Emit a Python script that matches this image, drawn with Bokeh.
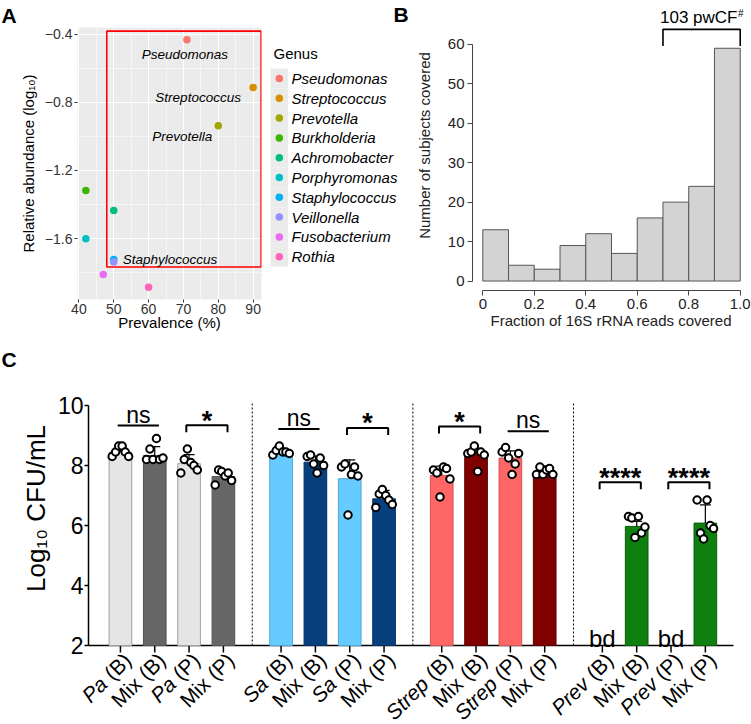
import math
from bokeh.plotting import figure
from bokeh.layouts import column, row
from bokeh.models import Range1d, FixedTicker
from bokeh.embed import file_html
from bokeh.resources import INLINE
from bokeh.core.properties import value

FONT = "Liberation Sans"

# ---------------- Panel A data ----------------
genus = ["Pseudomonas", "Streptococcus", "Prevotella", "Burkholderia", "Achromobacter",
         "Porphyromonas", "Staphylococcus", "Veillonella", "Fusobacterium", "Rothia"]
prevalence = [71, 90, 80, 42, 50, 42, 50, 50, 47, 60]
rel_abundance = [-0.434, -0.713, -0.938, -1.317, -1.434, -1.600, -1.722, -1.736, -1.810, -1.884]
genus_colors = ["#F8766D", "#D89000", "#A3A500", "#39B600", "#00BF7D",
                "#00BFC4", "#00B0F6", "#9590FF", "#E76BF3", "#FF62BC"]
labelled_genus = ["Pseudomonas", "Streptococcus", "Prevotella", "Staphylococcus"]
box_prevalence = [48.0, 92.3]
box_abundance = [-1.766, -0.383]
a_xticks = [40, 50, 60, 70, 80, 90]
a_yticks = [-1.6, -1.2, -0.8, -0.4]

# ---------------- Panel B data ----------------
bin_edges = [0.0, 0.1, 0.2, 0.3, 0.4, 0.5, 0.6, 0.7, 0.8, 0.9, 1.0]
subject_counts = [13, 4, 3, 9, 12, 7, 16, 20, 24, 59]
b_xticks = [0.0, 0.2, 0.4, 0.6, 0.8, 1.0]
b_xtick_labels = ["0", "0.2", "0.4", "0.6", "0.8", "1.0"]
b_yticks = [0, 10, 20, 30, 40, 50, 60]

# ---------------- Panel C data ----------------
cond_prefix = ["Pa", "Mix", "Pa", "Mix", "Sa", "Mix", "Sa", "Mix",
               "Strep", "Mix", "Strep", "Mix", "Prev", "Mix", "Prev", "Mix"]
cond_suffix = ["\u00a0(B)", "\u00a0(B)", "\u00a0(P)", "\u00a0(P)"] * 4
log_cfu_mean = [8.45, 8.33, 8.06, 7.63, 8.45, 8.11, 7.56, 6.89,
                7.67, 8.39, 8.25, 7.78, None, 5.97, None, 6.08]
log_cfu_sd = [0.12, 0.30, 0.30, 0.13, 0.12, 0.20, 0.63, 0.28,
              0.31, 0.18, 0.24, 0.20, None, 0.17, None, 0.61]
log_cfu_points = [
    [8.30, 8.45, 8.65, 8.65, 8.45, 8.30],
    [8.20, 8.55, 8.20, 8.90, 8.20, 8.25],
    [7.75, 8.20, 8.55, 8.10, 8.00, 7.85],
    [7.35, 7.85, 7.80, 7.65, 7.75, 7.50],
    [8.35, 8.50, 8.65, 8.45, 8.45, 8.40],
    [8.30, 8.35, 8.05, 7.75, 8.25, 8.00],
    [7.95, 8.05, 6.35, 7.70, 7.95, 7.65],
    [6.60, 7.05, 7.20, 7.00, 6.85, 6.70],
    [7.85, 7.75, 6.95, 7.95, 7.90, 7.55],
    [8.40, 8.45, 8.65, 7.80, 8.45, 8.35],
    [8.45, 8.60, 8.25, 7.70, 8.05, 8.40],
    [7.70, 7.95, 7.70, 7.85, 7.90, 7.70],
    [],
    [6.30, 6.25, 5.60, 6.30, 5.75, 5.95],
    [],
    [6.85, 5.75, 5.55, 6.85, 6.00, 5.90],
]
bar_fill = ["#E5E5E5", "#666666", "#E5E5E5", "#666666",
            "#66CCFF", "#08407F", "#66CCFF", "#08407F",
            "#FF6666", "#800000", "#FF6666", "#800000",
            "#FFFFFF", "#0F7F0F", "#FFFFFF", "#0F7F0F"]
bar_line = ["#A0A0A0", "#555555", "#A0A0A0", "#555555",
            "#4DA6D9", "#06305F", "#4DA6D9", "#06305F",
            "#D05555", "#5A0000", "#D05555", "#5A0000",
            "#FFFFFF", "#0A5C0A", "#FFFFFF", "#0A5C0A"]
comparisons = [  # (bar i, bar j, label, y level, style)
    (0, 1, "ns", 9.33, "line"),
    (2, 3, "*", 9.34, "bracket"),
    (4, 5, "ns", 9.22, "line"),
    (6, 7, "*", 9.25, "bracket"),
    (8, 9, "*", 9.30, "bracket"),
    (10, 11, "ns", 9.14, "line"),
    (12, 13, "****", 7.44, "bracket"),
    (14, 15, "****", 7.44, "bracket"),
]
c_yticks = [2, 4, 6, 8, 10]
c_ylabel = "Log\u2081\u2080 CFU/mL"

# ---------------- layout constants ----------------
GROUP_STEP = 4.68
JITTER = [-0.24, -0.14, -0.05, 0.05, 0.14, 0.24]
xpos = [(i // 4) * GROUP_STEP + (i % 4) for i in range(16)]


def no_align(f):
    try:
        f.frame_align = False
    except Exception:
        pass
    return f


def blank(width, height):
    f = figure(width=width, height=height, x_range=Range1d(0, width), y_range=Range1d(height, 0),
               output_backend="svg", toolbar_location=None,
               min_border_left=0, min_border_right=0, min_border_top=0, min_border_bottom=0)
    f.axis.visible = False
    f.grid.visible = False
    f.outline_line_color = None
    return no_align(f)


def letter(f, x, y, t):
    f.text(x=[x], y=[y], text=[t], text_align="left", text_baseline="top", text_font=value(FONT),
           text_font_size="21px", text_font_style="bold", text_color="black")


# =============== Figure A ===============
strip_a = blank(265, 27)
letter(strip_a, 1, 3, "A")

pa = figure(width=265, height=316, x_range=Range1d(39.6, 92.4), y_range=Range1d(-1.9565, -0.3615),
            output_backend="svg", toolbar_location=None,
            min_border_left=77, min_border_right=4, min_border_top=0, min_border_bottom=44)
no_align(pa)
pa.background_fill_color = "#EBEBEB"
pa.outline_line_color = None
pa.xaxis.ticker = FixedTicker(ticks=a_xticks, minor_ticks=[t + 5 for t in a_xticks[:-1]])
pa.yaxis.ticker = FixedTicker(ticks=a_yticks, minor_ticks=[t - 0.2 for t in a_yticks])
for g in (pa.xgrid, pa.ygrid):
    g.grid_line_color = "white"
    g.grid_line_width = 1.1
    g.minor_grid_line_color = "white"
    g.minor_grid_line_width = 0.5
for ax in (pa.xaxis, pa.yaxis):
    ax.axis_line_color = None
    ax.major_tick_in = 0
    ax.major_tick_out = 3
    ax.minor_tick_in = 0
    ax.minor_tick_out = 0
    ax.major_tick_line_color = "#333333"
    ax.major_label_text_font = FONT
    ax.major_label_text_font_size = "14px"
    ax.major_label_text_color = "#333333"
    ax.axis_label_text_font = FONT
    ax.axis_label_text_font_size = "15px"
    ax.axis_label_text_font_style = "normal"
    ax.axis_label_text_color = "black"
pa.xaxis.major_label_standoff = 1
pa.xaxis.axis_label_standoff = -3
pa.yaxis.major_label_standoff = 2
pa.yaxis.axis_label_standoff = 5
pa.xaxis.axis_label = "Prevalence (%)"
pa.yaxis.axis_label = "Relative abundance (log\u2081\u2080)"

pa.quad(left=box_prevalence[0], right=box_prevalence[1], bottom=box_abundance[0], top=box_abundance[1],
        fill_color=None, line_color="#FF0000", line_width=1.6)
pa.scatter(x=prevalence, y=rel_abundance, marker="circle", size=7.5,
           fill_color=genus_colors, line_color=None)

label_offsets = {"Pseudomonas": (-2, 15, "center"), "Streptococcus": (-55, 10, "center"),
                 "Prevotella": (-36, 11, "center"), "Staphylococcus": (9, 0, "left")}
for gname in labelled_genus:
    k = genus.index(gname)
    dx, dy, al = label_offsets[gname]
    pa.text(x=[prevalence[k]], y=[rel_abundance[k]], text=[gname], x_offset=dx, y_offset=dy,
            text_align=al, text_baseline="middle", text_font=value(FONT),
            text_font_size="13.5px", text_font_style="italic", text_color="black")

col_a = column(strip_a, pa)

# =============== Legend figure ===============
pl = blank(147, 343)
KEY_TOP, KEY_STEP = 68.1, 19.8
pl.quad(left=5, right=22.6, top=[KEY_TOP + KEY_STEP * i for i in range(len(genus))],
        bottom=[KEY_TOP + KEY_STEP * (i + 1) for i in range(len(genus))],
        fill_color="#EBEBEB", line_color=None)
key_y = [KEY_TOP + KEY_STEP * (i + 0.5) for i in range(len(genus))]
pl.scatter(x=[13.8] * len(genus), y=key_y, marker="circle", size=7.5,
           fill_color=genus_colors, line_color=None)
pl.text(x=[26] * len(genus), y=key_y, text=genus,
        text_align="left", text_baseline="middle", text_font=value(FONT),
        text_font_size="15px", text_font_style="italic", text_color="black")
pl.text(x=[8], y=[53], text=["Genus"], text_align="left", text_baseline="middle",
        text_font=value(FONT), text_font_size="15px", text_color="black")
letter(pl, 128, 2, "B")

# =============== Figure B ===============
pb = figure(width=339, height=343, x_range=Range1d(-0.04, 1.04), y_range=Range1d(-2.4, 71.11),
            output_backend="svg", toolbar_location=None,
            min_border_left=59, min_border_right=1, min_border_top=0, min_border_bottom=53)
no_align(pb)
pb.grid.visible = False
pb.outline_line_color = None
pb.xaxis.ticker = FixedTicker(ticks=b_xticks)
pb.xaxis.major_label_overrides = dict(zip(b_xticks, b_xtick_labels))
pb.yaxis.ticker = FixedTicker(ticks=b_yticks)
pb.xaxis.bounds = (0, 1)
pb.yaxis.bounds = (0, 60)
for ax in (pb.xaxis, pb.yaxis):
    ax.axis_line_color = "#444444"
    ax.major_tick_line_color = "#444444"
    ax.major_tick_in = 0
    ax.major_tick_out = 5
    ax.minor_tick_in = 0
    ax.minor_tick_out = 0
    ax.major_label_text_font = FONT
    ax.major_label_text_font_size = "15px"
    ax.major_label_text_color = "#222222"
    ax.axis_label_text_font = FONT
    ax.axis_label_text_font_size = "15px"
    ax.axis_label_text_font_style = "normal"
    ax.axis_label_text_color = "#222222"
pb.xaxis.major_label_standoff = 3
pb.xaxis.axis_label_standoff = 0
pb.yaxis.major_label_standoff = 3
pb.yaxis.axis_label_standoff = 12
pb.xaxis.axis_label = "Fraction of 16S rRNA reads covered"
pb.yaxis.axis_label = "Number of subjects covered"
pb.quad(left=bin_edges[:-1], right=bin_edges[1:], bottom=0, top=subject_counts,
        fill_color="#D3D3D3", line_color="#555555", line_width=1)
br_left, br_right = bin_edges[7], bin_edges[10]
br_low, br_high = max(subject_counts) + 0.6, max(subject_counts) + 4.8
pb.line(x=[br_left, br_left, br_right, br_right], y=[br_low, br_high, br_high, br_low],
        line_color="black", line_width=1.6)
pwcf_n = sum(subject_counts[7:])
pb.text(x=[br_left], y=[br_high + 3.0], x_offset=-3, text=[f"{pwcf_n} pwCF"], text_align="left",
        text_baseline="middle", text_font=value(FONT), text_font_size="17px", text_color="black")
pb.text(x=[br_left], y=[br_high + 3.0], x_offset=75, y_offset=-4, text=["#"], text_align="left",
        text_baseline="middle", text_font=value(FONT), text_font_size="10px", text_color="black")

row1 = row(col_a, pl, pb)

# =============== Figure C ===============
strip_c = blank(751, 47)
letter(strip_c, 1, 4, "C")

Y_BASE = 2
C_LEFT, C_RIGHT = -0.93, 17.86      # extent of the x axis line
C_PX = 645 / (C_RIGHT - C_LEFT)     # pixels per bar unit
pc = figure(width=751, height=334,
            x_range=Range1d(C_LEFT - 88 / C_PX, C_LEFT - 88 / C_PX + 751 / C_PX),
            y_range=Range1d(-0.633, 10.5),
            output_backend="svg", toolbar_location=None,
            min_border_left=0, min_border_right=0, min_border_top=0, min_border_bottom=0)
no_align(pc)
pc.grid.visible = False
pc.outline_line_color = None
pc.axis.visible = False

# y axis (drawn at the left end of the x axis)
pc.segment(x0=[C_LEFT], y0=[c_yticks[0]], x1=[C_LEFT], y1=[c_yticks[-1]], line_color="black", line_width=1.5)
pc.segment(x0=C_LEFT, y0=c_yticks, x1=C_LEFT - 4 / C_PX, y1=c_yticks, line_color="black", line_width=1.5)
pc.text(x=[C_LEFT] * len(c_yticks), y=c_yticks, text=[str(t) for t in c_yticks], x_offset=-5,
        text_align="right", text_baseline="middle", text_font=value(FONT),
        text_font_size="23px", text_color="black")
pc.text(x=[C_LEFT], y=[6.57], x_offset=-53, text=[c_ylabel], angle=math.pi / 2,
        text_align="center", text_baseline="middle", text_font=value(FONT),
        text_font_size="26px", text_color="black")

# x axis line and ticks at the base value
pc.segment(x0=[C_LEFT], y0=[Y_BASE], x1=[C_RIGHT], y1=[Y_BASE], line_color="black", line_width=1.5)
pc.segment(x0=xpos, y0=Y_BASE, x1=xpos, y1=Y_BASE - 7 / 30, line_color="black", line_width=1.5)

# group separators
sep_x = [((g * GROUP_STEP + 3) + (g + 1) * GROUP_STEP) / 2 for g in range(3)]
pc.segment(x0=sep_x, y0=Y_BASE, x1=sep_x, y1=10.07, line_color="black", line_width=1, line_dash="2 2")

present = [i for i in range(16) if log_cfu_mean[i] is not None]
pc.vbar(x=[xpos[i] for i in present], top=[log_cfu_mean[i] for i in present], bottom=Y_BASE, width=0.66,
        fill_color=[bar_fill[i] for i in present], line_color=[bar_line[i] for i in present], line_width=1)
ex = [xpos[i] for i in present]
ey0 = [log_cfu_mean[i] for i in present]
ey1 = [log_cfu_mean[i] + log_cfu_sd[i] for i in present]
pc.segment(x0=ex, y0=ey0, x1=ex, y1=ey1, line_color="black", line_width=1.2)
pc.segment(x0=[x - 0.16 for x in ex], y0=ey1, x1=[x + 0.16 for x in ex], y1=ey1,
           line_color="black", line_width=1.2)
px, py = [], []
for i in range(16):
    for j, v in enumerate(log_cfu_points[i]):
        px.append(xpos[i] + JITTER[j])
        py.append(v)
pc.scatter(x=px, y=py, marker="circle", size=7.5, fill_color="white", line_color="black", line_width=2)

bd_idx = [i for i in range(16) if log_cfu_mean[i] is None]
pc.text(x=[xpos[i] for i in bd_idx], y=[2.25] * len(bd_idx), text=["bd"] * len(bd_idx),
        text_align="center", text_baseline="alphabetic", text_font=value(FONT),
        text_font_size="24px", text_color="black")

for (i, j, lab, yl, style) in comparisons:
    x0, x1 = xpos[i] - 0.08, xpos[j] + 0.12
    if style == "bracket":
        pc.line(x=[x0, x0, x1, x1], y=[yl - 0.23, yl, yl, yl - 0.23], line_color="black", line_width=2)
        pc.text(x=[(x0 + x1) / 2], y=[yl + 0.16], text=[lab], text_align="center", text_baseline="alphabetic",
                text_font=value(FONT), text_font_size="27px", text_font_style="bold", text_color="black")
    else:
        pc.line(x=[x0, x1], y=[yl, yl], line_color="black", line_width=2)
        pc.text(x=[(x0 + x1) / 2], y=[yl + 0.37], text=[lab], text_align="center", text_baseline="alphabetic",
                text_font=value(FONT), text_font_size="23px", text_color="black")

# rotated category labels (prefix italic except "Mix")
LBL_SIZE = 21
SUFFIX_W = 1.611 * LBL_SIZE  # width of " (B)" in em units of the font
c45 = math.cos(math.pi / 4)
AX_OFF, AY_OFF = 7, 11
pc.text(x=xpos, y=[Y_BASE] * 16, text=cond_suffix, x_offset=AX_OFF, y_offset=AY_OFF,
        angle=math.pi / 4, text_align="right", text_baseline="middle",
        text_font=value(FONT), text_font_size=f"{LBL_SIZE}px", text_color="black")
for style in ("normal", "italic"):
    idx = [i for i in range(16) if (cond_prefix[i] == "Mix") == (style == "normal")]
    pc.text(x=[xpos[i] for i in idx], y=[Y_BASE] * len(idx), text=[cond_prefix[i] for i in idx],
            x_offset=AX_OFF - SUFFIX_W * c45, y_offset=AY_OFF + SUFFIX_W * c45,
            angle=math.pi / 4, text_align="right", text_baseline="middle",
            text_font=value(FONT), text_font_size=f"{LBL_SIZE}px", text_font_style=style, text_color="black")

col_c = column(strip_c, pc)

layout = column(row1, col_c)
open("out.html", "w").write(file_html(layout, INLINE))
